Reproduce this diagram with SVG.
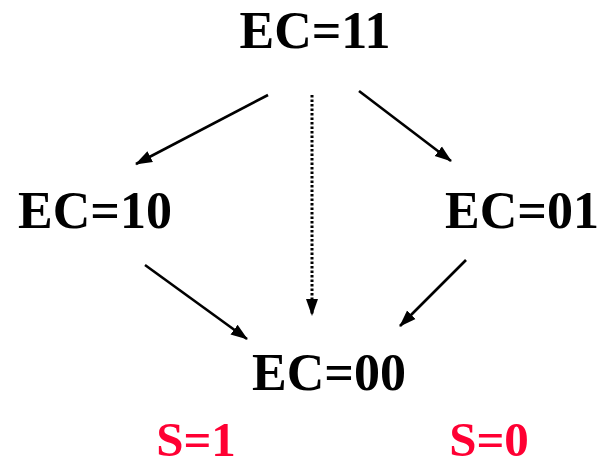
<svg xmlns="http://www.w3.org/2000/svg" width="605" height="466" viewBox="0 0 605 466">
<style>
.n{font-family:"Liberation Serif","Times New Roman",serif;font-weight:bold;font-size:52px;fill:#000}
.s{font-family:"Liberation Serif","Times New Roman",serif;font-weight:bold;font-size:49px;fill:#ff0033}
.e{stroke:#000;stroke-width:2.6;fill:none;marker-end:url(#ah)}
.d{stroke-width:3;stroke-dasharray:2.5 2}
</style>
<defs>
<marker id="ah" markerUnits="userSpaceOnUse" markerWidth="18" markerHeight="14" refX="16" refY="7" orient="auto" viewBox="0 0 18 14">
<path d="M0,1 L17,7 L0,13 Z" fill="#000"/>
</marker>
</defs>
<rect width="605" height="466" fill="#fff"/>
<g id="connectors">
<line class="e" x1="268" y1="95" x2="136" y2="164"/>
<line class="e d" x1="312" y1="95" x2="312" y2="315"/>
<line class="e" x1="359" y1="91" x2="451" y2="161"/>
<line class="e" x1="145" y1="265" x2="247" y2="339"/>
<line class="e" x1="466" y1="260" x2="400" y2="326"/>
</g>
<g id="ec11"><text class="n" x="315" y="48" text-anchor="middle">EC=11</text></g>
<g id="ec10"><text class="n" x="95" y="228" text-anchor="middle">EC=10</text></g>
<g id="ec01"><text class="n" x="522" y="228" text-anchor="middle">EC=01</text></g>
<g id="ec00"><text class="n" x="329" y="390" text-anchor="middle">EC=00</text></g>
<g id="s1"><text class="s" x="196" y="456" text-anchor="middle">S=1</text></g>
<g id="s0"><text class="s" x="489" y="456" text-anchor="middle">S=0</text></g>
</svg>
